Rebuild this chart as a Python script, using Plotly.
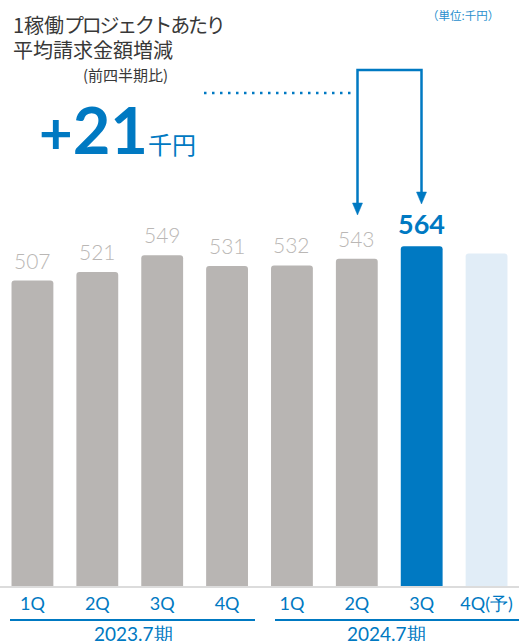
import plotly.graph_objects as go

# ---- data ----
quarters = ["1Q", "2Q", "3Q", "4Q", "1Q", "2Q", "3Q", "4Q(予)"]
values = [507, 521, 549, 531, 532, 543, 564, 552]
value_labels = ["507", "521", "549", "531", "532", "543", "564", ""]
fiscal_years = ["2023.7期", "2024.7期"]
title_lines = ["1稼働<span style='letter-spacing:-2.3px'>プロジェクトあたり</span>", "平均請求金額増減"]
bar_colors = ["#b8b5b3"] * 6 + ["#0079c2", "#e1edf7"]

W, H = 519, 641
B = 55
PH = H - B  # plot area height in px


def px(x):
    return x / W


def py(y):
    return (PH - y) / PH


BLUE = "#0079c2"
JP = "Noto Sans CJK JP"
NUM = "Lato"

xs = list(range(len(values)))

fig = go.Figure()
fig.add_trace(go.Bar(
    x=xs, y=values,
    marker=dict(color=bar_colors, line=dict(width=0), cornerradius=3),
    width=0.645,
    hoverinfo="skip",
))

ann = []
# value labels
for i, (v, t) in enumerate(zip(values, value_labels)):
    if not t:
        continue
    if i == 6:
        ann.append(dict(x=i, y=v, xref="x", yref="y", text="<b>" + t + "</b>",
                        showarrow=False, yanchor="bottom", yshift=4,
                        font=dict(family=NUM, size=27, color=BLUE)))
    else:
        ann.append(dict(x=i, y=v, xref="x", yref="y", text=t,
                        showarrow=False, yanchor="bottom", yshift=6,
                        font=dict(family=NUM, size=21, color="#bab7b5", weight=300)))

# titles
ann.append(dict(x=px(12), y=py(9), xref="paper", yref="paper", xanchor="left", yanchor="top",
                text=title_lines[0], showarrow=False, borderpad=0,
                font=dict(family=JP, size=20, color="#383838")))
ann.append(dict(x=px(12), y=py(34), xref="paper", yref="paper", xanchor="left", yanchor="top",
                text=title_lines[1], showarrow=False, borderpad=0,
                font=dict(family=JP, size=20, color="#383838")))
ann.append(dict(x=px(125), y=py(62), xref="paper", yref="paper", xanchor="center", yanchor="top",
                text="(前四半期比)", showarrow=False,
                font=dict(family=JP, size=15, color="#383838")))
ann.append(dict(x=px(37), y=py(170), xref="paper", yref="paper", xanchor="left", yanchor="bottom",
                text="<b><span style='font-size:58px'>+</span>21</b><span style='font-family:Noto Sans CJK JP;font-size:24px'>千円</span>",
                showarrow=False,
                font=dict(family=NUM, size=65, color=BLUE)))
ann.append(dict(x=px(501), y=py(5), xref="paper", yref="paper", xanchor="right", yanchor="top",
                text="（単位:千円）", showarrow=False,
                font=dict(family=JP, size=11.5, color="#2a8fce")))

# fiscal year group labels
ann.append(dict(x=px(133), y=py(621), xref="paper", yref="paper", xanchor="center", yanchor="top",
                text=fiscal_years[0], showarrow=False, borderpad=0,
                font=dict(family=NUM, size=19, color=BLUE)))
ann.append(dict(x=px(386), y=py(621), xref="paper", yref="paper", xanchor="center", yanchor="top",
                text=fiscal_years[1], showarrow=False, borderpad=0,
                font=dict(family=NUM, size=19, color=BLUE)))

shapes = []
# group underlines
shapes.append(dict(type="line", xref="paper", yref="paper", x0=px(10), x1=px(255), y0=py(620), y1=py(620),
                   line=dict(color=BLUE, width=2)))
shapes.append(dict(type="line", xref="paper", yref="paper", x0=px(275), x1=px(519), y0=py(620), y1=py(620),
                   line=dict(color=BLUE, width=2)))
# dotted connector
shapes.append(dict(type="line", xref="paper", yref="paper", x0=px(204), x1=px(356), y0=py(93), y1=py(93),
                   line=dict(color=BLUE, width=2.5, dash="2.5px,5.5px")))
# bracket
xl, xr, yt = 357.5, 421.5, 70
shapes.append(dict(type="path", xref="paper", yref="paper",
                   path=f"M {px(xl)},{py(205)} L {px(xl)},{py(yt)} L {px(xr)},{py(yt)} L {px(xr)},{py(193)}",
                   line=dict(color=BLUE, width=2.5)))
# arrowheads
for xc, tip in [(xl, 215), (xr, 204)]:
    shapes.append(dict(type="path", xref="paper", yref="paper",
                       path=f"M {px(xc-5)},{py(tip-12)} L {px(xc+5)},{py(tip-12)} L {px(xc)},{py(tip)} Z",
                       fillcolor=BLUE, line=dict(color=BLUE, width=0.5)))

fig.update_layout(
    width=W, height=H,
    margin=dict(l=0, r=0, t=0, b=B),
    paper_bgcolor="white", plot_bgcolor="white",
    showlegend=False,
    bargap=0.35,
    annotations=ann,
    shapes=shapes,
    xaxis=dict(range=[-0.5, 7.5], tickvals=xs, ticktext=quarters, showgrid=False, zeroline=False,
               showline=True, linecolor="#dcdcdc", linewidth=2, ticks="",
               tickfont=dict(family=NUM, size=18, color=BLUE), fixedrange=True),
    yaxis=dict(range=[0, PH / 0.6025], visible=False, showgrid=False, zeroline=False, fixedrange=True),
)

fig.write_html("out.html", config={"displayModeBar": False})
